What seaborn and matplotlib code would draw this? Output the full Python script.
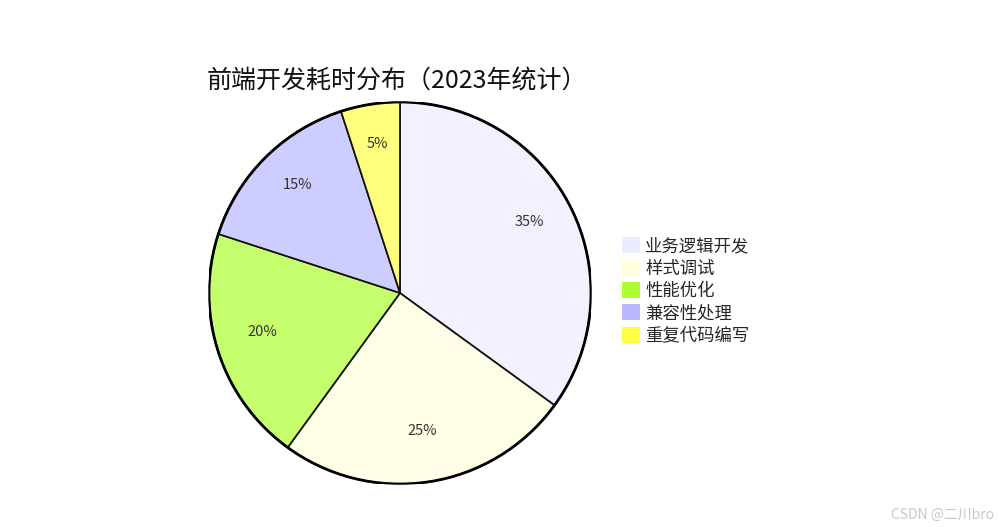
import matplotlib
matplotlib.use("Agg")
import matplotlib.pyplot as plt
import matplotlib.patches as mpatches
import matplotlib.transforms as mtransforms
from matplotlib.colors import to_rgba
import seaborn as sns

# data
categories = ['业务逻辑开发', '样式调试', '性能优化', '兼容性处理', '重复代码编写']
shares = [35, 25, 20, 15, 5]
colors = ['#ececff', '#ffffde', '#adff2f', '#b9b9ff', '#ffff46']
title = '前端开发耗时分布（2023年统计）'

sns.set_theme(style="white")
plt.rcParams['font.family'] = ['Noto Sans CJK SC', 'DejaVu Sans']

fig = plt.figure(figsize=(9.99, 5.27), dpi=100)
ax = fig.add_axes([209/999, 43/527, 382/999, 382/527])

# slices are drawn at 0.7 opacity, borders stay dark
wedges, texts, autotexts = ax.pie(
    shares, colors=[to_rgba(c, 0.7) for c in colors], startangle=90, counterclock=False,
    autopct='%1.0f%%', pctdistance=0.76, radius=1,
    wedgeprops=dict(linewidth=1.2, edgecolor='#111111'),
    textprops=dict(fontsize=10.5, color='#333333'))
for t in autotexts:
    t.set_transform(mtransforms.offset_copy(t.get_transform(), fig=fig, x=0, y=4, units='points'))
ax.add_patch(mpatches.Circle((0, 0), 1, fill=False, linewidth=2, edgecolor='black'))
ax.set_xlim(-1.0, 1.0)
ax.set_ylim(-1.0, 1.0)
ax.set_aspect('equal')
ax.axis('off')

fig.text(207/999, 1 - 81/527, title, fontsize=18, va='center', ha='left', color='#111111')

handles = [mpatches.Patch(facecolor=c, edgecolor='none') for c in colors]
fig.legend(handles, categories, loc='center left', bbox_to_anchor=(622/999, 1 - 291/527),
           frameon=False, fontsize=12.5, handlelength=1.05, handleheight=1.05,
           handletextpad=0.3, labelspacing=0.25, borderpad=0, borderaxespad=0)

fig.text(0.995, 0.01, 'CSDN @二川bro', fontsize=10, color='#c8c8c8', ha='right', va='bottom')

fig.savefig('out.png', dpi=100)
